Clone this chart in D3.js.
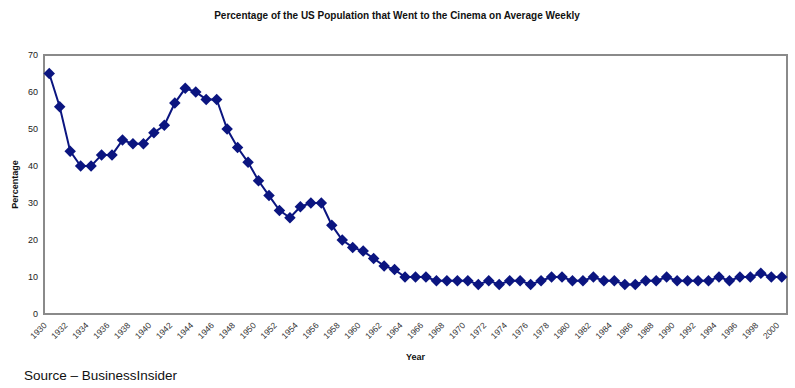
<!DOCTYPE html>
<html>
<head>
<meta charset="utf-8">
<style>
  body { margin: 0; background: #fff; }
  svg { display: block; font-family: "Liberation Sans", Arial, sans-serif; }
</style>
</head>
<body>
<svg id="chart" width="795" height="388"></svg>
<script src="https://cdn.jsdelivr.net/npm/d3@7"></script>
<script>
// years 1930 - 2000
const years = d3.range(1930, 2001);
const percent = [
  65, 56, 44, 40, 40, 43, 43, 47, 46, 46,   // 1930s
  49, 51, 57, 61, 60, 58, 58, 50, 45, 41,   // 1940s
  36, 32, 28, 26, 29, 30, 30, 24, 20, 18,   // 1950s
  17, 15, 13, 12, 10, 10, 10, 9, 9, 9,      // 1960s
  9, 8, 9, 8, 9, 9, 8, 9, 10, 10,           // 1970s
  9, 9, 10, 9, 9, 8, 8, 9, 9, 10,           // 1980s
  9, 9, 9, 9, 10, 9, 10, 10, 11, 10,        // 1990s
  10                                        // 2000
];
const yTicks = [0, 10, 20, 30, 40, 50, 60, 70];
const xLabels = years.filter(y => (y - 1930) % 2 === 0);

const data = years.map((y, i) => ({year: y, value: percent[i]}));

const plotL = 44, plotR = 787, plotT = 55, plotB = 314;
const navy = "#0b1580";

const svg = d3.select("#chart");

const x = d3.scaleBand().domain(years).range([plotL, plotR]);
const y = d3.scaleLinear().domain([0, 70]).range([plotB, plotT]);
const cx = d => x(d) + x.bandwidth() / 2;

// title
svg.append("text")
  .attr("x", 397).attr("y", 19)
  .attr("text-anchor", "middle")
  .attr("font-size", 10).attr("font-weight", "bold")
  .attr("fill", "#111")
  .text("Percentage of the US Population that Went to the Cinema on Average Weekly");

// frame
svg.append("rect")
  .attr("x", plotL).attr("y", plotT)
  .attr("width", plotR - plotL).attr("height", plotB - plotT)
  .attr("fill", "none").attr("stroke", "#8a8a8a").attr("stroke-width", 2);

// y axis labels
svg.append("g").selectAll("text")
  .data(yTicks)
  .join("text")
    .attr("x", 38).attr("y", d => y(d))
    .attr("dy", "0.35em")
    .attr("text-anchor", "end")
    .attr("font-size", 9).attr("fill", "#222")
    .text(d => d);

// x axis labels (rotated)
svg.append("g").selectAll("text")
  .data(xLabels)
  .join("text")
    .attr("transform", d => `translate(${cx(d) - 2},${plotB + 12}) rotate(-45)`)
    .attr("text-anchor", "end")
    .attr("font-size", 8.5).attr("fill", "#333")
    .text(d => d);

// axis titles
svg.append("text")
  .attr("transform", `translate(18,${(plotT + plotB) / 2}) rotate(-90)`)
  .attr("text-anchor", "middle")
  .attr("font-size", 9).attr("font-weight", "bold").attr("fill", "#111")
  .text("Percentage");

svg.append("text")
  .attr("x", (plotL + plotR) / 2).attr("y", 360)
  .attr("text-anchor", "middle")
  .attr("font-size", 9).attr("font-weight", "bold").attr("fill", "#111")
  .text("Year");

// line
const line = d3.line()
  .x(d => cx(d.year))
  .y(d => y(d.value));

svg.append("path")
  .datum(data)
  .attr("d", line)
  .attr("fill", "none")
  .attr("stroke", navy)
  .attr("stroke-width", 2);

// diamond markers
const diamond = d3.symbol(d3.symbolSquare, 66);
svg.append("g").selectAll("path")
  .data(data)
  .join("path")
    .attr("d", diamond)
    .attr("transform", d => `translate(${cx(d.year)},${y(d.value)}) rotate(45)`)
    .attr("fill", navy);

// source
svg.append("text")
  .attr("x", 24).attr("y", 380)
  .attr("font-size", 13.5).attr("fill", "#111")
  .text("Source – BusinessInsider");
</script>
</body>
</html>
